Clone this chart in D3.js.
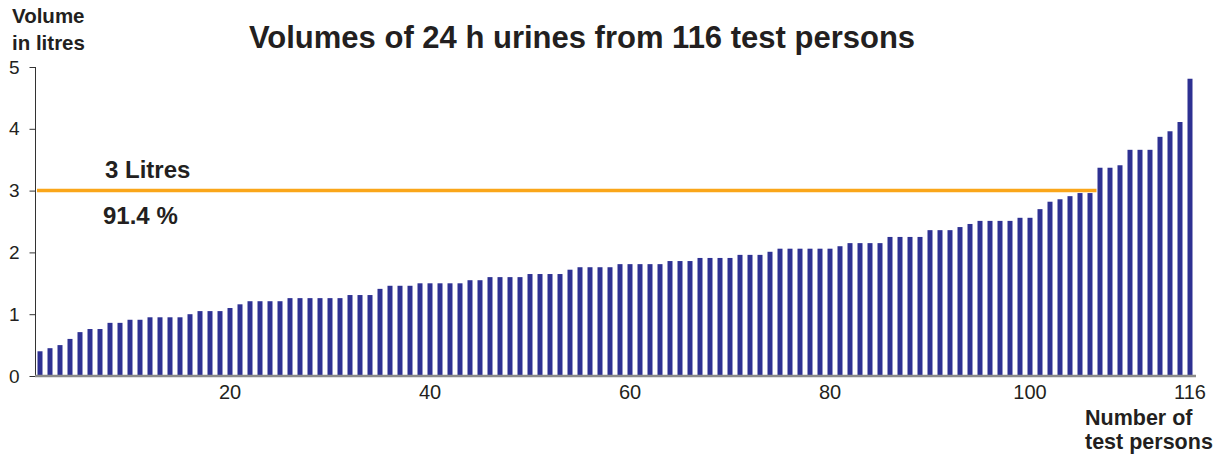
<!DOCTYPE html>
<html>
<head>
<meta charset="utf-8">
<script src="https://cdn.jsdelivr.net/npm/d3@7"></script>
<style>
  body { margin: 0; background: #fff; }
  text { font-family: "Liberation Sans", Arial, Helvetica, sans-serif; fill: #231f20; }
</style>
</head>
<body>
<svg width="1224" height="455"></svg>
<script>
// litres per person, sorted ascending (116 test persons)
var volumes = [
  0.40, 0.45, 0.50, 0.60, 0.71, 0.76, 0.76, 0.86, 0.86, 0.91,
  0.91, 0.95, 0.95, 0.95, 0.95, 1.00, 1.05, 1.05, 1.05, 1.10,
  1.16, 1.21, 1.21, 1.21, 1.21, 1.26, 1.26, 1.26, 1.26, 1.26,
  1.26, 1.31, 1.31, 1.31, 1.41, 1.46, 1.46, 1.46, 1.50, 1.50,
  1.50, 1.50, 1.50, 1.55, 1.55, 1.60, 1.60, 1.60, 1.60, 1.65,
  1.65, 1.65, 1.65, 1.72, 1.76, 1.76, 1.76, 1.76, 1.81, 1.81,
  1.81, 1.81, 1.81, 1.86, 1.86, 1.86, 1.91, 1.91, 1.91, 1.91,
  1.96, 1.96, 1.96, 2.01, 2.06, 2.06, 2.06, 2.06, 2.06, 2.06,
  2.10, 2.15, 2.15, 2.15, 2.15, 2.25, 2.25, 2.25, 2.25, 2.36,
  2.36, 2.36, 2.41, 2.46, 2.51, 2.51, 2.51, 2.51, 2.56, 2.56,
  2.70, 2.82, 2.86, 2.91, 2.96, 2.96, 3.37, 3.37, 3.41, 3.66,
  3.66, 3.66, 3.87, 3.96, 4.11, 4.81
];
var persons = volumes.map(function (v, i) { return i + 1; });
var yTicks = [0, 1, 2, 3, 4, 5];
var xTicks = [20, 40, 60, 80, 100, 116];
var limit = 3;
var limitLabel = "3 Litres";
var shareLabel = "91.4 %";
var title = "Volumes of 24 h urines from 116 test persons";

var svg = d3.select("svg");

var x = d3.scaleBand()
  .domain(persons)
  .range([35, 1195])
  .paddingInner(0.5)
  .paddingOuter(0.25);

var y = d3.scaleLinear()
  .domain([0, 5])
  .range([376, 67]);

// title
svg.append("text")
  .attr("x", 582)
  .attr("y", 48)
  .attr("text-anchor", "middle")
  .style("font-size", "31px")
  .style("font-weight", "bold")
  .text(title);

// axis titles
var yTitle = svg.append("text")
  .style("font-size", "20.5px")
  .style("font-weight", "bold");
yTitle.append("tspan").attr("x", 12).attr("y", 23).text("Volume");
yTitle.append("tspan").attr("x", 12).attr("y", 50).text("in litres");

var xTitle = svg.append("text")
  .style("font-size", "21.5px")
  .style("font-weight", "bold");
xTitle.append("tspan").attr("x", 1085).attr("y", 425).text("Number of");
xTitle.append("tspan").attr("x", 1085).attr("y", 449).text("test persons");

// bars
svg.append("g")
  .selectAll("rect")
  .data(volumes)
  .enter().append("rect")
  .attr("x", function (d, i) { return x(persons[i]); })
  .attr("width", x.bandwidth())
  .attr("y", function (d) { return y(d); })
  .attr("height", function (d) { return y(0) - y(d); })
  .attr("fill", "#2e3192");

// y axis
var yAxis = svg.append("g")
  .attr("transform", "translate(35.5,0)")
  .call(d3.axisLeft(y).tickValues(yTicks).tickFormat(d3.format("d")).tickSize(6).tickPadding(10));
yAxis.select(".domain").attr("stroke", "#333").attr("d", "M0," + y(5) + "V" + y(0));
yAxis.selectAll(".tick line").attr("stroke", "#333");
yAxis.selectAll(".tick text")
  .style("font-size", "19px")
  .attr("fill", "#231f20");

// x axis baseline (no tick marks)
var xAxis = svg.append("g")
  .attr("transform", "translate(0," + y(0) + ")")
  .call(d3.axisBottom(x).tickValues(xTicks).tickSize(0).tickPadding(9));
xAxis.select(".domain")
  .attr("stroke", "#8a8a8a")
  .attr("stroke-width", 2.5)
  .attr("d", "M35,0H1196");
xAxis.selectAll(".tick text")
  .style("font-size", "20px")
  .attr("fill", "#231f20");

// 3 litre reference line
svg.append("line")
  .attr("x1", 37)
  .attr("x2", x(persons[105]) + x.bandwidth() + 4)
  .attr("y1", y(limit))
  .attr("y2", y(limit))
  .attr("stroke", "#faa61a")
  .attr("stroke-width", 3.5);

svg.append("text")
  .attr("x", 105)
  .attr("y", 178)
  .style("font-size", "24px")
  .style("font-weight", "bold")
  .text(limitLabel);

svg.append("text")
  .attr("x", 103)
  .attr("y", 224)
  .style("font-size", "24px")
  .style("font-weight", "bold")
  .text(shareLabel);
</script>
</body>
</html>
